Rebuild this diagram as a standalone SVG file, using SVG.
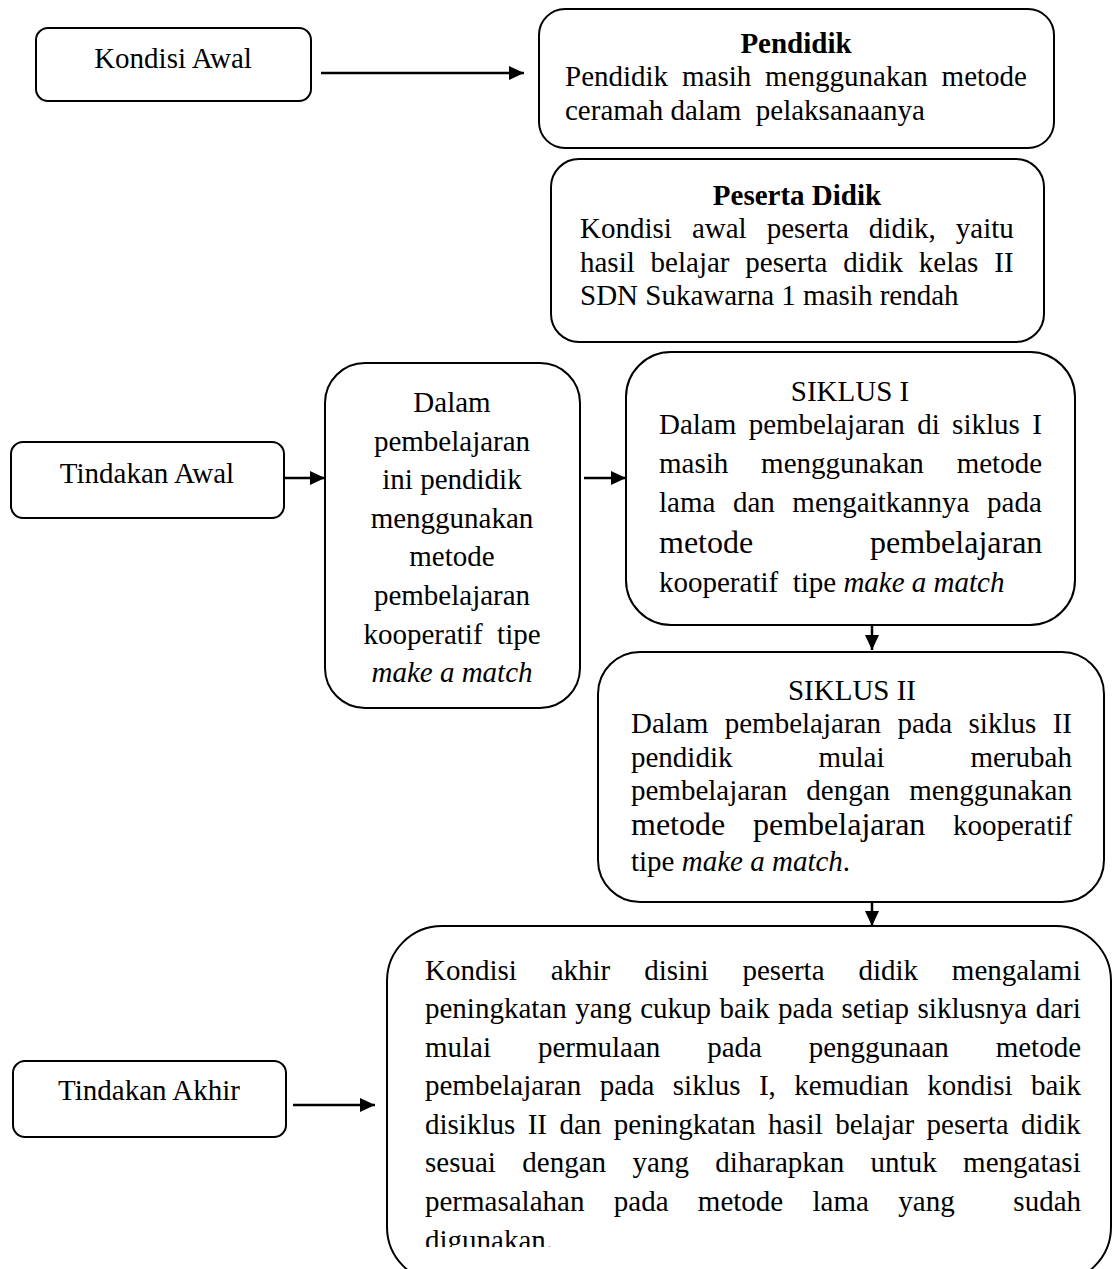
<svg xmlns="http://www.w3.org/2000/svg" width="1112" height="1269" viewBox="0 0 1112 1269">
<style>
  .box { fill: #fff; stroke: #000; stroke-width: 2; }
  .t { font-family: "Liberation Serif", "Times New Roman", serif; font-size: 29px; fill: #000; }
  .big { font-size: 32px; }
  .c { text-anchor: middle; }
  .b { font-weight: bold; }
  .i { font-style: italic; }
  .con { stroke: #000; stroke-width: 2.5; fill: none; }
</style>
<defs>
  <marker id="ah" markerWidth="15" markerHeight="14" refX="15" refY="7" orient="auto" markerUnits="userSpaceOnUse">
    <path d="M0,0 L15,7 L0,14 z" fill="#000"/>
  </marker>
  <clipPath id="clipAkhir">
    <rect x="380" y="926" width="732" height="321"/>
  </clipPath>
</defs>
<rect width="1112" height="1269" fill="#fff"/>

<g id="connectors">
  <line class="con" x1="321" y1="73" x2="524" y2="73" marker-end="url(#ah)"/>
  <line class="con" x1="285" y1="478" x2="325" y2="478" marker-end="url(#ah)"/>
  <line class="con" x1="584" y1="478" x2="626" y2="478" marker-end="url(#ah)"/>
  <line class="con" x1="872" y1="625" x2="872" y2="650" marker-end="url(#ah)"/>
  <line class="con" x1="872" y1="902" x2="872" y2="926" marker-end="url(#ah)"/>
  <line class="con" x1="293" y1="1105" x2="375" y2="1105" marker-end="url(#ah)"/>
</g>

<g id="kondisi-awal">
  <rect class="box" x="36" y="28" width="275" height="73" rx="12"/>
  <text class="t c" x="173" y="68">Kondisi Awal</text>
</g>

<g id="pendidik">
  <rect class="box" x="539" y="9" width="515" height="139" rx="26"/>
  <text class="t c b" x="796" y="53">Pendidik</text>
  <text class="t" x="565" y="86" word-spacing="6.6">Pendidik masih menggunakan metode</text>
  <text class="t" x="565" y="120" xml:space="preserve">ceramah dalam  pelaksanaanya</text>
</g>

<g id="peserta-didik">
  <rect class="box" x="551" y="159" width="493" height="183" rx="28"/>
  <text class="t c b" x="797" y="205">Peserta Didik</text>
  <text class="t" x="580" y="238" word-spacing="12.8">Kondisi awal peserta didik, yaitu</text>
  <text class="t" x="580" y="272" word-spacing="8.6">hasil belajar peserta didik kelas II</text>
  <text class="t" x="580" y="305">SDN Sukawarna 1 masih rendah</text>
</g>

<g id="tindakan-awal">
  <rect class="box" x="11" y="442" width="273" height="76" rx="12"/>
  <text class="t c" x="147" y="483">Tindakan Awal</text>
</g>

<g id="dalam-pembelajaran">
  <rect class="box" x="325" y="363" width="255" height="345" rx="40"/>
  <text class="t c" x="452" y="412">Dalam</text>
  <text class="t c" x="452" y="451">pembelajaran</text>
  <text class="t c" x="452" y="489">ini pendidik</text>
  <text class="t c" x="452" y="528">menggunakan</text>
  <text class="t c" x="452" y="566">metode</text>
  <text class="t c" x="452" y="605">pembelajaran</text>
  <text class="t c" x="452" y="644" xml:space="preserve">kooperatif  tipe</text>
  <text class="t c i" x="452" y="682">make a match</text>
</g>

<g id="siklus-1">
  <rect class="box" x="626" y="352" width="449" height="273" rx="45"/>
  <text class="t c" x="850" y="401">SIKLUS I</text>
  <text class="t" x="659" y="434" word-spacing="5.1">Dalam pembelajaran di siklus I</text>
  <text class="t" x="659" y="473" word-spacing="25.6">masih menggunakan metode</text>
  <text class="t" x="659" y="512" word-spacing="10.3">lama dan mengaitkannya pada</text>
  <text class="t big" y="553"><tspan x="659">metode</tspan><tspan x="870">pembelajaran</tspan></text>
  <text class="t" x="659" y="592" xml:space="preserve">kooperatif  tipe <tspan class="i">make a match</tspan></text>
</g>

<g id="siklus-2">
  <rect class="box" x="598" y="652" width="506" height="250" rx="42"/>
  <text class="t c" x="852" y="700">SIKLUS II</text>
  <text class="t" x="631" y="733" word-spacing="9.2">Dalam pembelajaran pada siklus II</text>
  <text class="t" x="631" y="767" word-spacing="78.7">pendidik mulai merubah</text>
  <text class="t" x="631" y="800" word-spacing="11.9">pembelajaran dengan menggunakan</text>
  <text class="t" y="835"><tspan class="big" x="631">metode</tspan><tspan class="big" x="753">pembelajaran</tspan><tspan x="953">kooperatif</tspan></text>
  <text class="t" x="631" y="871">tipe <tspan class="i">make a match</tspan>.</text>
</g>

<g id="tindakan-akhir">
  <rect class="box" x="13" y="1061" width="273" height="76" rx="12"/>
  <text class="t c" x="149" y="1100">Tindakan Akhir</text>
</g>

<g id="kondisi-akhir">
  <rect class="box" x="387" y="926" width="724" height="356" rx="55"/>
  <g clip-path="url(#clipAkhir)">
    <text class="t" x="425" y="980" word-spacing="26.6">Kondisi akhir disini peserta didik mengalami</text>
    <text class="t" x="425" y="1018" word-spacing="1.3">peningkatan yang cukup baik pada setiap siklusnya dari</text>
    <text class="t" x="425" y="1057" word-spacing="39.6">mulai permulaan pada penggunaan metode</text>
    <text class="t" x="425" y="1095" word-spacing="11.2">pembelajaran pada siklus I, kemudian kondisi baik</text>
    <text class="t" x="425" y="1134" word-spacing="5.2">disiklus II dan peningkatan hasil belajar peserta didik</text>
    <text class="t" x="425" y="1172" word-spacing="19.2">sesuai dengan yang diharapkan untuk mengatasi</text>
    <text class="t" x="425" y="1211" word-spacing="22.1" xml:space="preserve">permasalahan pada metode lama yang  sudah</text>
    <text class="t" x="425" y="1250">digunakan.</text>
  </g>
</g>
</svg>
